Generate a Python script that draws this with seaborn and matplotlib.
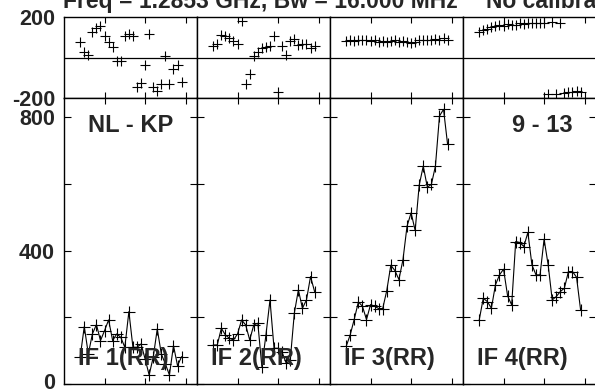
import pandas as pd
import seaborn as sns
import matplotlib.pyplot as plt
import matplotlib.transforms as mtransforms

sns.set_theme(style="white")
plt.rcParams['font.family'] = ['Liberation Sans', 'DejaVu Sans']
plt.rcParams['font.weight'] = 'bold'
plt.rcParams['axes.edgecolor'] = 'black'
plt.rcParams['axes.linewidth'] = 1.0

# channels plotted in every IF
channels = list(range(4, 30))
if_names = ["IF 1(RR)", "IF 2(RR)", "IF 3(RR)", "IF 4(RR)"]

amp_if1 = [82, 172, 90, 150, 178, 130, 160, 192, 130, 150, 140, 110, 217,
           110, 110, 120, 75, 27, 80, 165, 90, 60, 27, 115, 55, 82]
amp_if2 = [117, 117, 167, 147, 137, 132, 150, 192, 177, 132, 177, 182, 52,
           147, 252, 107, 107, 95, 62, 72, 212, 282, 227, 252, 322, 277]
amp_if3 = [113, 148, 195, 246, 233, 193, 238, 233, 226, 226, 280, 356, 340,
           313, 373, 473, 513, 460, 596, 653, 590, 598, 653, 803, 823, 718]
amp_if4 = [192, 257, 247, 227, 297, 327, 344, 264, 237, 427, 424, 412, 454,
           357, 327, 327, 434, 357, 252, 262, 277, 287, 337, 337, 320, 222]

phase_if1 = [75, 25, 12, 128, 145, 158, 105, 75, 50, -17, -17, 108, 117,
             105, -145, -125, -38, 117, -145, -167, -133, 8, -133, -58, -38, -122]
phase_if2 = [58, 67, 112, 105, 95, 83, 67, 178, -133, -83, 8, 28, 45,
             50, 58, 105, -172, 58, 12, 83, 92, 62, 67, 67, 45, 58]
phase_if3 = [82, 85, 80, 88, 84, 86, 80, 85, 78, 82, 78, 80, 84,
             78, 82, 76, 74, 78, 84, 86, 88, 85, 90, 86, 95, 88]
phase_if4 = [127, 135, 143, 150, 155, 160, 158, 165, 162, 160, 168, 165, 170,
             168, 172, 170, 168, -178, 176, -178, 172, -175, -170, -168, -165, -172]

amps = [amp_if1, amp_if2, amp_if3, amp_if4]
phases = [phase_if1, phase_if2, phase_if3, phase_if4]

rows = []
for name, a, p in zip(if_names, amps, phases):
    for ch, av, pv in zip(channels, a, p):
        rows.append({"IF": name, "channel": ch, "amp": av, "phase": pv})
df = pd.DataFrame(rows)

W, H = 595, 389
fig = plt.figure(figsize=(W / 100, H / 100), dpi=100)

col_left = [64, 197, 330, 463]
col_w = 133

for i, name in enumerate(if_names):
    sub = df[df["IF"] == name]
    x0 = col_left[i] / W
    ax_p = fig.add_axes([x0, (H - 98) / H, col_w / W, 81 / H])
    ax_a = fig.add_axes([x0, (H - 384) / H, col_w / W, 286 / H])

    sns.scatterplot(data=sub, x="channel", y="phase", ax=ax_p, marker="+",
                    color="black", s=60, linewidth=0.8)
    ax_p.axhline(0, color="black", lw=0.9)
    sns.lineplot(data=sub, x="channel", y="amp", ax=ax_a, color="black",
                 lw=0.8, marker="+", markersize=8, markeredgewidth=0.8,
                 markeredgecolor="black")

    for ax in (ax_p, ax_a):
        ax.set_xlim(0, 32.8)
        ax.set_xticks([10, 20, 30])
        ax.set_xticklabels([])
        ax.set_xlabel("")
        ax.set_ylabel("")
        ax.tick_params(axis="x", direction="in", top=True, bottom=True,
                       length=4, width=0.8, color="black")
        for sp in ax.spines.values():
            sp.set_visible(True)
            sp.set_color("black")

    ax_p.set_ylim(-200, 200)
    ax_a.set_ylim(0, 857)
    ax_a.set_yticks([0, 200, 400, 600, 800])
    ax_a.tick_params(axis="y", direction="in", left=True, right=True,
                     length=4.8, width=0.8, color="black", pad=6.5,
                     labelsize=15.5)
    if i == 0:
        ax_a.set_yticklabels(["0", "", "400", "", "800"], fontweight="bold")
        # lift the "0" a little so it stays inside the figure
        zero = ax_a.get_yticklabels()[0]
        zero.set_transform(zero.get_transform() +
                           mtransforms.ScaledTranslation(0, 3 / 100,
                                                         fig.dpi_scale_trans))
        ax_p.set_yticks([-200, 200])
        ax_p.set_yticklabels(["-200", "200"], fontweight="bold")
        ax_p.tick_params(axis="y", length=0, pad=6.5, labelsize=15.5)
    else:
        ax_a.set_yticklabels([])
        ax_p.set_yticks([])

    ax_a.text(0.105, 0.066, name, transform=ax_a.transAxes, fontsize=17,
              fontweight="bold", ha="left", va="baseline")
    if i == 0:
        ax_a.text(0.18, 0.881, "NL - KP", transform=ax_a.transAxes,
                  fontsize=17, fontweight="bold", ha="left", va="baseline")
    if i == 3:
        ax_a.text(0.827, 0.881, "9 - 13", transform=ax_a.transAxes,
                  fontsize=17, fontweight="bold", ha="right", va="baseline")

fig.text(63 / W, 1 - 8 / H, "Freq = 1.2853 GHz, Bw = 16.000 MHz",
         fontsize=16.5, fontweight="bold", ha="left", va="baseline")
fig.text(486 / W, 1 - 8 / H, "No calibration", fontsize=16.5,
         fontweight="bold", ha="left", va="baseline")

fig.savefig("out.png", dpi=100)
